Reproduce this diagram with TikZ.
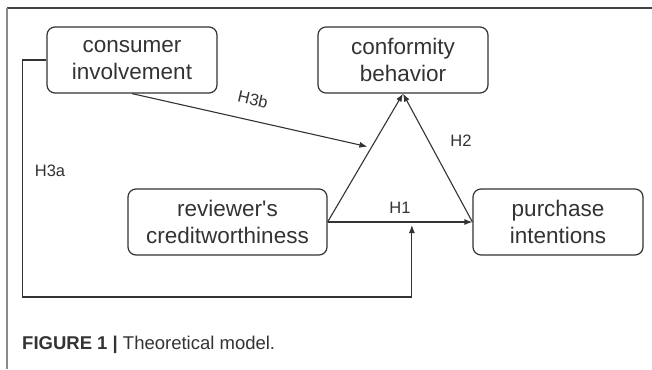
\documentclass[tikz,border=0pt]{standalone}
\usepackage{fontspec}
\setmainfont{Liberation Sans}[Ligatures=TeXOff]
\usetikzlibrary{arrows.meta,calc}
\definecolor{ink}{HTML}{333333}
\definecolor{framegray}{HTML}{8A8A8A}
\definecolor{frametop}{HTML}{444444}
\tikzset{
  box/.style={draw=ink, line width=1.2pt, rounded corners=8pt, minimum width=170pt, minimum height=66pt,
    inner sep=0pt, align=center, text=ink, font=\fontsize{22.5}{27}\selectfont},
  conn/.style={draw=ink, line width=1.1pt, -{Latex[length=8pt,width=6pt]}},
  hlabel/.style={text=ink, font=\fontsize{16.5}{19}\selectfont, inner sep=0pt}
}
\begin{document}
\begin{tikzpicture}[x=1pt,y=-1pt]
\useasboundingbox (0,0) rectangle (652,369);
% frame
\draw[frametop, line width=1.4pt] (7,8) -- (652,8);
\draw[framegray, line width=1.2pt] (7,8) -- (7,369);
% nodes
\node[box] (ci) at (132,60) {consumer\\involvement};
\node[box] (cb) at (403,60) {conformity\\behavior};
\node[box, minimum width=199pt] (rc) at (227.5,222) {reviewer's\\creditworthiness};
\node[box] (pi) at (558,222) {purchase\\intentions};
% connectors
\draw[conn] (rc.east) -- (cb.south);
\draw[conn] (pi.west) -- (cb.south);
\draw[conn] (rc.east) -- (pi.west);
\coordinate (m) at ($(rc.east)!0.58!(cb.south)$);
\draw[conn, shorten >=4pt] (ci.south) -- (m);
\coordinate (h1) at ($(rc.east)!0.582!(pi.west)$);
\coordinate (c1) at ($(ci.west)+(-24,0)$);
\draw[conn, shorten >=3pt] (ci.west) -- (c1) |- ($(h1)+(0,75)$) -- (h1);
% labels
\node[hlabel] (l3a) at (50,171) {H3a};
\node[hlabel, rotate=-13] (l3b) at (253,99) {H3b};
\node[hlabel] (l2) at (461,141) {H2};
\node[hlabel] (l1) at (400,208) {H1};
% caption
\node[anchor=base west, inner sep=0pt, text=ink, font=\fontsize{18.5}{21}\selectfont] (cap) at (22,349)
  {\textbf{FIGURE 1 |} Theoretical model.};
\end{tikzpicture}
\end{document}
